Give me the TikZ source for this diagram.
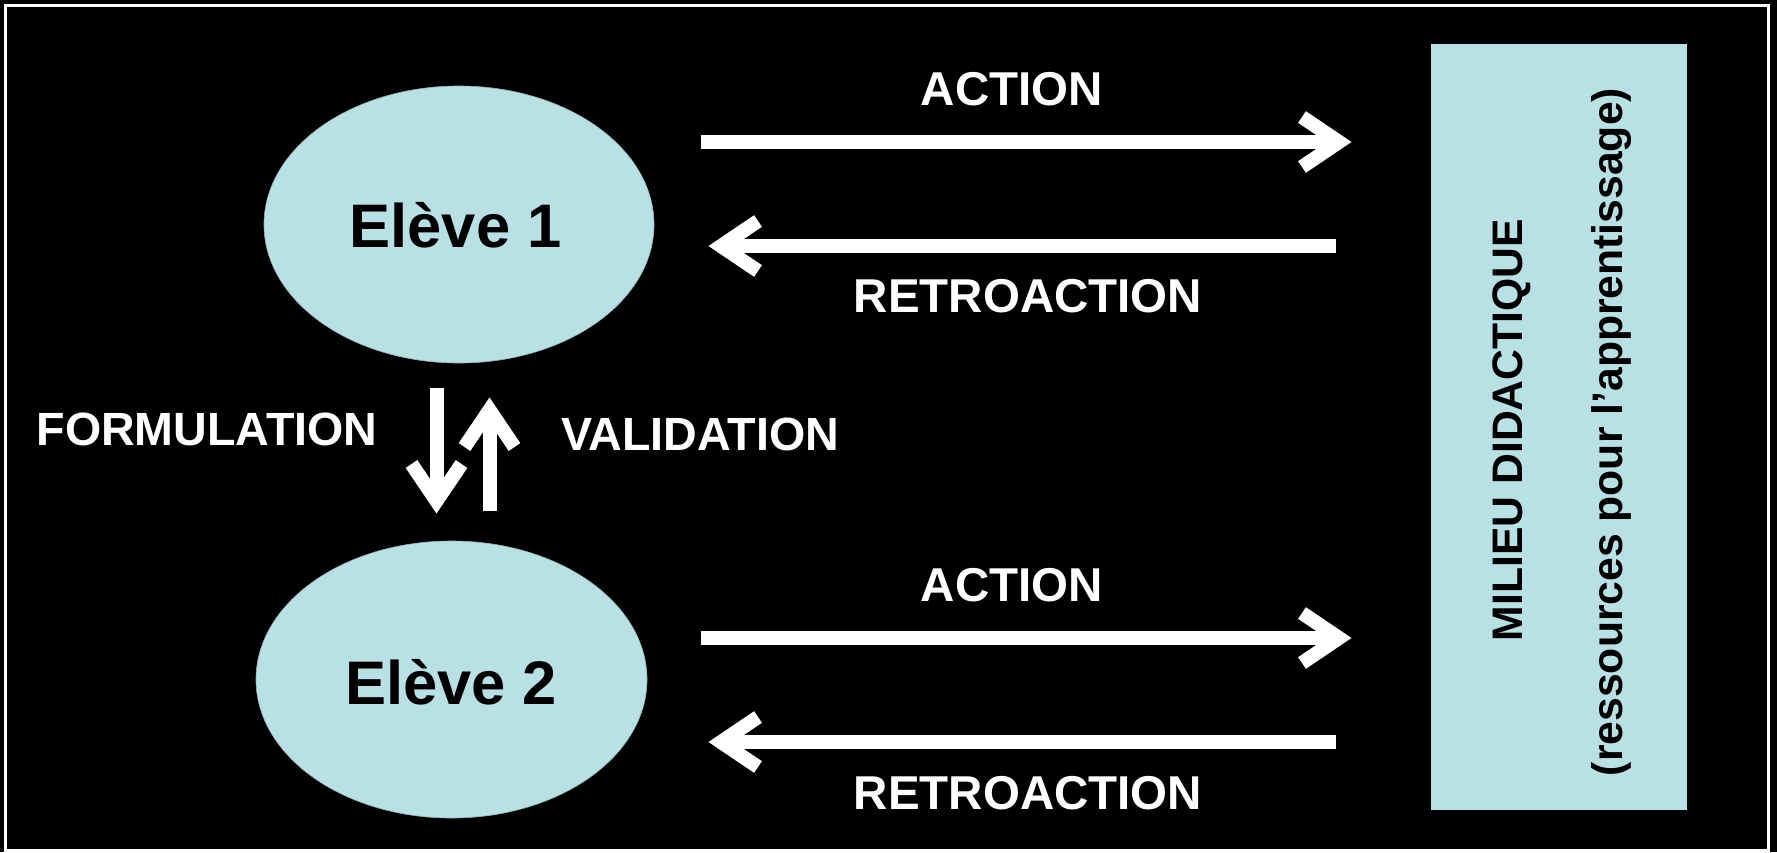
\documentclass[tikz,border=0pt]{standalone}
\usepackage{fontspec}
\setmainfont{Liberation Sans}
\usetikzlibrary{shapes.geometric}
\definecolor{paleblue}{RGB}{185,224,228}
\begin{document}
\begin{tikzpicture}[x=1pt,y=-1pt,
  lbl/.style={text=white,font=\bfseries\fontsize{47.5}{57}\selectfont,inner sep=0pt,anchor=base},
  sidelbl/.style={lbl,font=\bfseries\fontsize{46.6}{56}\selectfont},
  pupil/.style={shape=ellipse,fill=paleblue,draw=paleblue!80!black,line width=0.6pt,inner sep=0pt},
  pupiltext/.style={text=black,font=\bfseries\fontsize{61.5}{74}\selectfont,inner sep=0pt,anchor=base},
  sidetext/.style={text=black,font=\bfseries\fontsize{42.7}{51}\selectfont,inner sep=0pt,anchor=base,rotate=90},
  shaft/.style={draw=white,line width=14pt,line cap=butt},
  barb/.pic={\draw[white,line width=14pt,line cap=butt,line join=miter]
              (-37,-25) -- (0,0) -- (-37,25);}]
% page, background and white frame
\useasboundingbox (0,0) rectangle (1777,852);
\fill[black] (0,0) rectangle (1777,852);
\draw[white,line width=3pt] (5.5,5.5) rectangle (1768.5,850.5);

% didactic milieu
\fill[paleblue] (1431,44) rectangle (1687,810);
\node[sidetext] (milieu) at (1522,430) {MILIEU DIDACTIQUE};
\node[sidetext] (ress) at (1622,432) {(ressources pour l’apprentissage)};

% pupils
\node[pupil,minimum width=390pt,minimum height=277pt] (p1) at (459,224.5) {};
\node[pupiltext] (e1) at (455.5,247) {Elève 1};
\node[pupil,minimum width=391pt,minimum height=277pt] (p2) at (451.5,679.5) {};
\node[pupiltext] (e2) at (451,704) {Elève 2};

% arrow end points
\coordinate (a1s) at (701,142);  \coordinate (a1e) at (1339,142);
\coordinate (r1s) at (1336,246); \coordinate (r1e) at (721,246);
\coordinate (a2s) at (701,638);  \coordinate (a2e) at (1339,638);
\coordinate (r2s) at (1336,742); \coordinate (r2e) at (721,742);
\coordinate (fs) at (436.5,388); \coordinate (fe) at (436.5,501);
\coordinate (vs) at (489.5,511); \coordinate (ve) at (489.5,410);

% action / retroaction arrows
\draw[shaft] (a1s) -- (a1e); \pic at (a1e) {barb};
\draw[shaft] (r1s) -- (r1e); \pic[rotate=180] at (r1e) {barb};
\draw[shaft] (a2s) -- (a2e); \pic at (a2e) {barb};
\draw[shaft] (r2s) -- (r2e); \pic[rotate=180] at (r2e) {barb};

% formulation / validation arrows
\draw[shaft] (fs) -- (fe); \pic[rotate=-90] at (fe) {barb};
\draw[shaft] (vs) -- (ve); \pic[rotate=90] at (ve) {barb};

% labels
\node[lbl] (act1) at (1012,105) {ACTION};
\node[lbl] (ret1) at (1028,312.7) {RETROACTION};
\node[lbl] (act2) at (1012,601) {ACTION};
\node[lbl] (ret2) at (1028,809) {RETROACTION};
\node[sidelbl] (form) at (207,445.7) {FORMULATION};
\node[sidelbl] (valid) at (700,450.7) {VALIDATION};
\end{tikzpicture}
\end{document}
